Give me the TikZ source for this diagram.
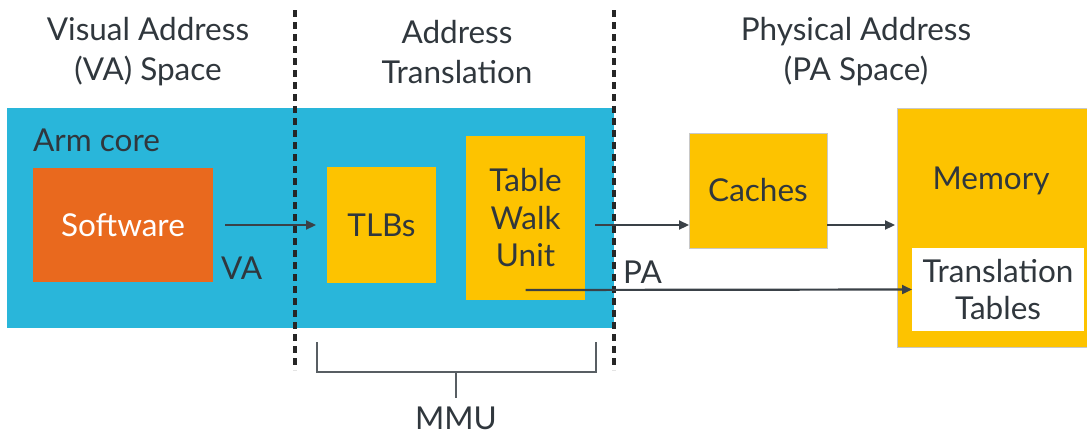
\documentclass[tikz,border=0pt]{standalone}
\usepackage{fontspec}
\setmainfont{Lato}
\usetikzlibrary{arrows.meta}
\definecolor{armblue}{HTML}{29B6DA}
\definecolor{armorange}{HTML}{E9691E}
\definecolor{armyellow}{HTML}{FDC300}
\definecolor{txt}{HTML}{30373D}
\definecolor{ln}{HTML}{3A4147}
\definecolor{edge}{HTML}{C8C8C8}
\begin{document}
\begin{tikzpicture}[x=1pt,y=-1pt,
  font=\fontsize{31.5}{37.5}\selectfont, text=txt,
  box/.style={anchor=north west, inner sep=0pt, outer sep=0pt, align=center},
  lbl/.style={inner sep=0pt, align=center},
  head/.style={lbl, font=\fontsize{31.5}{40}\selectfont},
  conn/.style={draw=ln, line width=2.2pt, -{Triangle[length=10pt,width=9pt]}},
  divider/.style={draw=black!85, line width=4pt, dash pattern=on 7pt off 5pt},
  brace/.style={draw=ln!85, line width=2.6pt}]
\useasboundingbox (0,0) rectangle (1087,434);
% regions
\node[box, fill=armblue, minimum width=607pt, minimum height=220pt] (core) at (7,108) {};
\node[box, fill=armyellow, draw=edge, line width=0.8pt, minimum width=190pt, minimum height=239pt] (mem) at (897,108) {};
% headers
\node[head] (h1) at (148,52) {Visual Address\\(VA) Space};
\node[head] (h2) at (457,52) {Address\\Translation};
\node[head] (h3) at (856,52) {Physical Address\\(PA Space)};
% labels
\node[lbl, anchor=west] (arm) at (33,140) {Arm core};
% blocks
\node[box, fill=armorange, text=white, minimum width=180pt, minimum height=114pt] (sw) at (33,168) {Software};
\node[box, fill=armyellow, minimum width=109pt, minimum height=116pt] (tlb) at (327,167) {TLBs};
\node[box, fill=armyellow, minimum width=119pt, minimum height=164pt] (twu) at (466,136) {Table\\Walk\\Unit};
\node[box, fill=armyellow, draw=edge, line width=0.8pt, minimum width=138pt, minimum height=115pt] (cache) at (689,133) {Caches};
\node[lbl] (memt) at (991,181) {Memory};
\node[box, fill=white, minimum width=172pt, minimum height=83pt] (tt) at (912,248) {Translation\\Tables};
% dividers
\coordinate (d1t) at (295,10); \coordinate (d1b) at (295,370);
\coordinate (d2t) at (614,10); \coordinate (d2b) at (614,370);
\draw[divider] (d1t) -- (d1b);
\draw[divider] (d2t) -- (d2b);
% connectors
\draw[conn, shorten <=12pt, shorten >=11pt] (sw.east) -- (tlb.west);
\node[lbl, anchor=west] (va) at (221,268) {VA};
\draw[conn, shorten <=10pt] (twu.east |- sw.east) -- (cache.west |- sw.east);
\draw[conn, shorten >=2pt] (cache.east |- sw.east) -- (mem.west |- sw.east);
\coordinate (pas) at ([yshift=10pt]twu.south);
\draw[conn] (pas) -- (tt.west);
\node[lbl, anchor=west] (pa) at (623,272) {PA};
% MMU bracket
\coordinate (bl) at (317,342); \coordinate (br) at (596,342);
\coordinate (bm) at (456,372); \coordinate (bs) at (456,398);
\draw[brace] (bl) |- (bm) -| (br);
\draw[brace] (bm) -- (bs);
\node[lbl] (mmu) at (456,418) {MMU};
\end{tikzpicture}
\end{document}
